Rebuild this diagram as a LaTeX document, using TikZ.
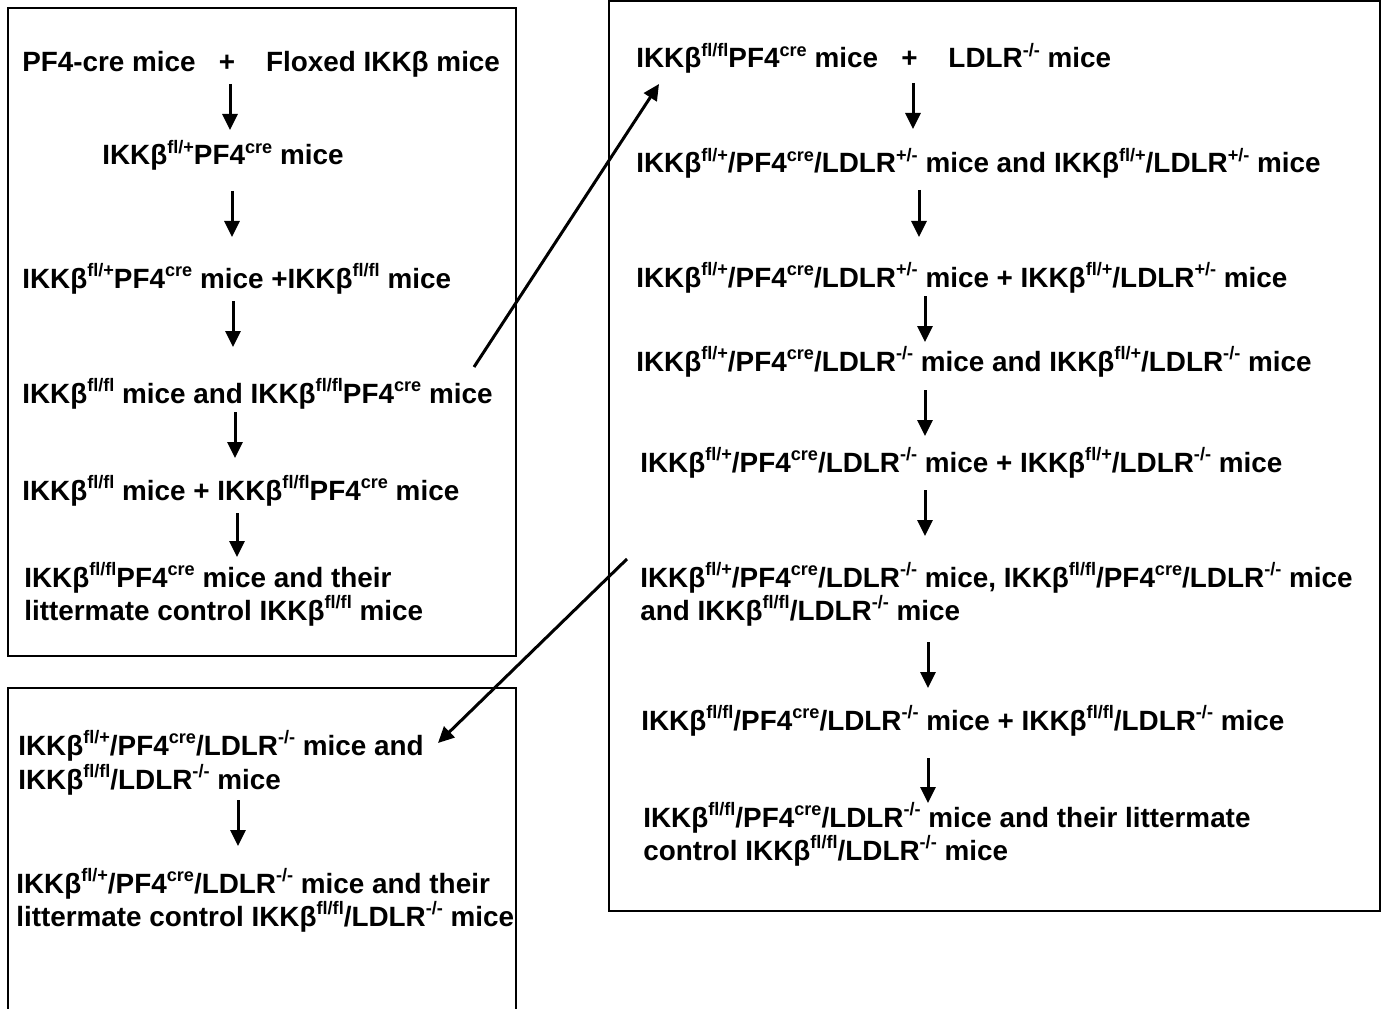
\documentclass[tikz,border=0pt]{standalone}
\usepackage{fontspec}
\setmainfont{Liberation Sans}[BoldFont={* Bold}]
\usetikzlibrary{arrows.meta}
\newcommand\su[1]{\raisebox{0.42em}{\fontsize{13.6pt}{13.6pt}\selectfont #1}}
\tikzset{
  lbl/.style={anchor=base west, inner sep=0pt, font=\fontsize{20.9pt}{26pt}\bfseries},
  frame/.style={line width=1.5pt},
  arr/.style={line width=2.25pt, -{Triangle[width=11.25pt,length=12pt]}},
}
\begin{document}
\begin{tikzpicture}[x=0.75pt,y=-0.75pt]
\useasboundingbox (0,0) rectangle (1387,1009);
% boxes
\draw[frame] (8,8) rectangle (516,656);
\draw[frame] (609,1) rectangle (1380,911);
\draw[frame] (8,1015) -- (8,688) -- (516,688) -- (516,1015);
% left box
\node[lbl] (l1) at (22,72) {PF4-cre mice \ \ +\ \ \ \ Floxed IKKβ mice};
\node[lbl] (l2) at (102,165) {IKKβ\su{fl/+}PF4\su{cre} mice};
\node[lbl] (l3) at (22,288) {IKKβ\su{fl/+}PF4\su{cre} mice +IKKβ\su{fl/fl} mice};
\node[lbl] (l4) at (22,403) {IKKβ\su{fl/fl} mice and IKKβ\su{fl/fl}PF4\su{cre} mice};
\node[lbl] (l5) at (22,500) {IKKβ\su{fl/fl} mice + IKKβ\su{fl/fl}PF4\su{cre} mice};
\node[lbl] (l6) at (24,587) {IKKβ\su{fl/fl}PF4\su{cre} mice and their};
\node[lbl] (l7) at (24,620) {littermate control IKKβ\su{fl/fl} mice};
% right box
\node[lbl] (r1) at (636,68) {IKKβ\su{fl/fl}PF4\su{cre} mice \ \ +\ \ \ \ LDLR\su{-/-} mice};
\node[lbl] (r2) at (636,173) {IKKβ\su{fl/+}/PF4\su{cre}/LDLR\su{+/-} mice and IKKβ\su{fl/+}/LDLR\su{+/-} mice};
\node[lbl] (r3) at (636,287) {IKKβ\su{fl/+}/PF4\su{cre}/LDLR\su{+/-} mice + IKKβ\su{fl/+}/LDLR\su{+/-} mice};
\node[lbl] (r4) at (636,371) {IKKβ\su{fl/+}/PF4\su{cre}/LDLR\su{-/-} mice and IKKβ\su{fl/+}/LDLR\su{-/-} mice};
\node[lbl] (r5) at (640,472) {IKKβ\su{fl/+}/PF4\su{cre}/LDLR\su{-/-} mice + IKKβ\su{fl/+}/LDLR\su{-/-} mice};
\node[lbl] (r6) at (640,587) {IKKβ\su{fl/+}/PF4\su{cre}/LDLR\su{-/-} mice, IKKβ\su{fl/fl}/PF4\su{cre}/LDLR\su{-/-} mice};
\node[lbl] (r7) at (640,620) {and IKKβ\su{fl/fl}/LDLR\su{-/-} mice};
\node[lbl] (r8) at (641,730) {IKKβ\su{fl/fl}/PF4\su{cre}/LDLR\su{-/-} mice + IKKβ\su{fl/fl}/LDLR\su{-/-} mice};
\node[lbl] (r9) at (643,827) {IKKβ\su{fl/fl}/PF4\su{cre}/LDLR\su{-/-} mice and their littermate};
\node[lbl] (r10) at (643,860) {control IKKβ\su{fl/fl}/LDLR\su{-/-} mice};
% bottom-left box
\node[lbl] (b1) at (18,755) {IKKβ\su{fl/+}/PF4\su{cre}/LDLR\su{-/-} mice and};
\node[lbl] (b2) at (18,789) {IKKβ\su{fl/fl}/LDLR\su{-/-} mice};
\node[lbl] (b3) at (16,893) {IKKβ\su{fl/+}/PF4\su{cre}/LDLR\su{-/-} mice and their};
\node[lbl] (b4) at (16,926) {littermate control IKKβ\su{fl/fl}/LDLR\su{-/-} mice};
% arrow end points
\coordinate (la1s) at (230,84);  \coordinate (la1e) at (230,130);
\coordinate (la2s) at (232,191); \coordinate (la2e) at (232,237);
\coordinate (la3s) at (233,301); \coordinate (la3e) at (233,347);
\coordinate (la4s) at (235,412); \coordinate (la4e) at (235,458);
\coordinate (la5s) at (237,513); \coordinate (la5e) at (237,557);
\coordinate (ra1s) at (913,83);  \coordinate (ra1e) at (913,129);
\coordinate (ra2s) at (919,190); \coordinate (ra2e) at (919,237);
\coordinate (ra3s) at (925,296); \coordinate (ra3e) at (925,342);
\coordinate (ra4s) at (925,390); \coordinate (ra4e) at (925,436);
\coordinate (ra5s) at (925,490); \coordinate (ra5e) at (925,536);
\coordinate (ra6s) at (928,642); \coordinate (ra6e) at (928,688);
\coordinate (ra7s) at (928,758); \coordinate (ra7e) at (928,803);
\coordinate (ba1s) at (238,800); \coordinate (ba1e) at (238,846);
\coordinate (d1s) at (474,367);  \coordinate (d1e) at (659,84);
\coordinate (d2s) at (627,559);  \coordinate (d2e) at (438,743);
\foreach \p in {la1,la2,la3,la4,la5,ra1,ra2,ra3,ra4,ra5,ra6,ra7,ba1,d1,d2}
  \draw[arr] (\p s) -- (\p e);
\end{tikzpicture}
\end{document}
